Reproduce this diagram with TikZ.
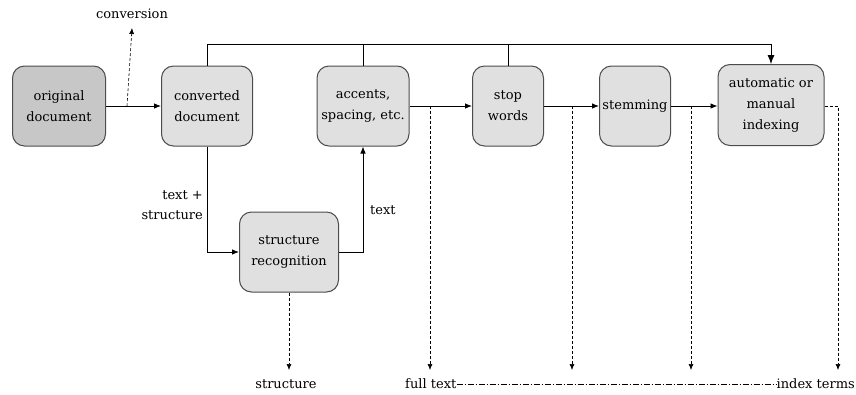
\documentclass[tikz,border=0pt]{standalone}
\usepackage{fontspec}
\setmainfont{DejaVu Serif}
\usetikzlibrary{arrows.meta}
\begin{document}
\begin{tikzpicture}[x=1pt,y=-1pt,
  box/.style={draw=black!70, line width=1pt, rounded corners=12pt, fill=black!12,
    align=center, inner sep=0pt, font=\fontsize{13}{21}\selectfont},
  darkbox/.style={box, fill=black!22},
  flow/.style={line width=0.8pt, -{Latex[length=7pt,width=5.5pt]}},
  outflow/.style={line width=0.6pt, dashed, dash pattern=on 3pt off 2pt, -{Latex[length=6pt,width=5pt]}},
  lbl/.style={font=\fontsize{13}{20}\selectfont, inner sep=0pt}]
\useasboundingbox (0,0) rectangle (856,394);

% processing stages
\node[darkbox, minimum width=93pt, minimum height=80pt] (orig) at (59,106) {original\\document};
\node[box, minimum width=91pt, minimum height=80pt] (conv) at (207,106) {converted\\document};
\node[box, minimum width=92pt, minimum height=80pt] (acc) at (363,106) {accents,\\spacing, etc.};
\node[box, minimum width=71pt, minimum height=80pt] (stop) at (508,106) {stop\\words};
\node[box, minimum width=71pt, minimum height=80pt] (stem) at (635,106) {stemming};
\node[box, minimum width=106pt, minimum height=81pt] (idx) at (771,105) {automatic or\\manual\\indexing};
\node[box, minimum width=99pt, minimum height=80pt] (rec) at (289,252) {structure\\recognition};

% outputs
\node[lbl, anchor=base] (convlbl) at (132,18) {conversion};
\node[lbl, anchor=base] (struct) at (286,388) {structure};
\node[lbl, anchor=base west] (full) at (405,388) {full text};
\node[lbl, anchor=base east] (terms) at (855,388) {index terms};
\node[lbl, align=right, anchor=east] (tslbl) at (203,205) {text +\\structure};
\node[lbl, anchor=west] (txtlbl) at (370,210) {text};

% branch points
\coordinate (c1) at (127,106);
\coordinate (c2) at (430,106);
\coordinate (c3) at (572,106);
\coordinate (c4) at (691,106);
\coordinate (top) at (207,44);

% main flow
\draw[flow] (orig.east |- c1) -- (conv.west |- c1);
\draw[flow] (conv.south) |- (rec.west);
\draw[flow] (rec.east) -| (acc.south);
\draw[flow] (acc.east |- c2) -- (stop.west |- c2);
\draw[flow] (stop.east |- c3) -- (stem.west |- c3);
\draw[flow] (stem.east |- c4) -- (idx.west |- c4);
\draw[flow, -{Latex[length=9pt,width=7pt]}] (conv.north) -- (top) -| (idx.north);
\draw[line width=0.8pt] (acc.north) -- (acc.north |- top);
\draw[line width=0.8pt] (stop.north) -- (stop.north |- top);

% side outputs
\draw[outflow] (c1) -- (convlbl.south |- 0,28);
\draw[outflow] (rec.south) -- (rec.south |- 0,370);
\draw[outflow] (c2) -- (430,370);
\draw[outflow] (c3) -- (572,370);
\draw[outflow] (c4) -- (691,370);
\draw[outflow] (idx.east |- c4) -| (838,370);
\draw[line width=0.5pt, dash pattern=on 6pt off 2pt on 1pt off 2pt] (full.east |- 0,384) -- (terms.west |- 0,384);
\end{tikzpicture}
\end{document}
